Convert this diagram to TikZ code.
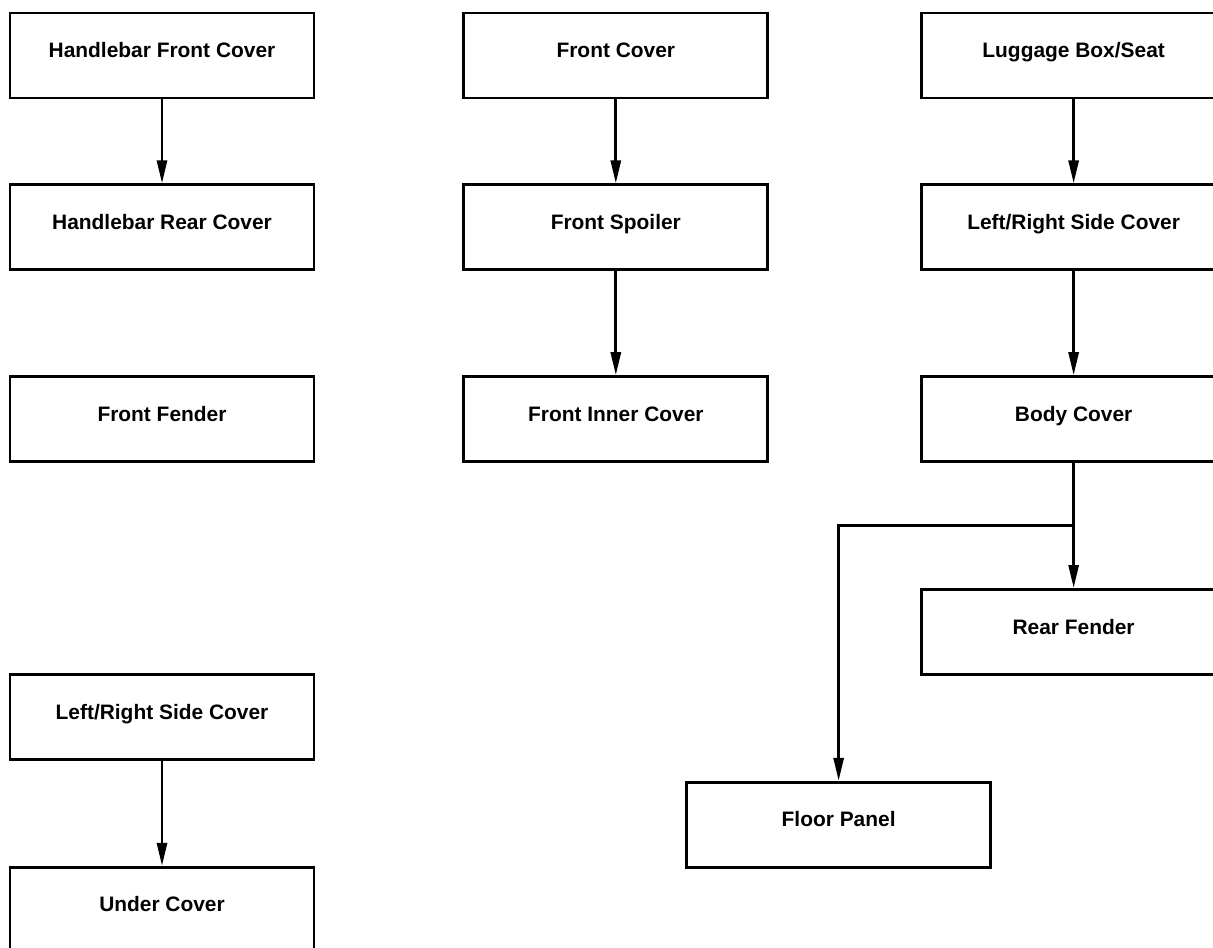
\documentclass[tikz,border=0pt]{standalone}
\usepackage{fontspec}
\setmainfont{Liberation Sans}
\usepackage{tikz}
\usetikzlibrary{arrows.meta, positioning, calc}

\begin{document}
\begin{tikzpicture}[
    node distance=1.68cm,
    box/.style={draw, line width=1.6pt, minimum width=6.08cm, minimum height=1.7cm, align=center,
        font=\fontsize{11.9}{14}\selectfont\bfseries, text height=9pt, text depth=6.6pt},
    arrow/.style={-{Triangle[length=4.6mm, width=2mm]}, line width=1.6pt}
]
\useasboundingbox (0,0) rectangle (24.26,-18.94);

% Column 1: handlebar
\node[box] (hfront) at (3.24,-1.11) {Handlebar Front Cover};
\node[box, below=of hfront] (hrear) {Handlebar Rear Cover};
\node[box, below=2.08cm of hrear] (ffender) {Front Fender};
\node[box, below=4.2cm of ffender] (lrside) {Left/Right Side Cover};
\node[box, below=2.1cm of lrside] (under) {Under Cover};

% Column 2: front
\node[box, right=2.94cm of hfront] (fcover) {Front Cover};
\node[box, below=of fcover] (fspoiler) {Front Spoiler};
\node[box, below=2.08cm of fspoiler] (finner) {Front Inner Cover};

% Column 3: rear (cut by the right margin)
\node[box, right=3.02cm of fcover] (luggage) {Luggage Box/Seat};
\node[box, below=of luggage] (side) {Left/Right Side Cover};
\node[box, below=2.08cm of side] (body) {Body Cover};
\node[box, below=2.5cm of body] (rfender) {Rear Fender};
\node[box, below=2.1cm of rfender, xshift=-4.7cm] (floor) {Floor Panel};

\coordinate (split) at ($(body.south)!0.5!(rfender.north)$);

% Arrows
\draw[arrow] (hfront) -- (hrear);
\draw[arrow] (lrside) -- (under);
\draw[arrow] (fcover) -- (fspoiler);
\draw[arrow] (fspoiler) -- (finner);
\draw[arrow] (luggage) -- (side);
\draw[arrow] (side) -- (body);
\draw[arrow] (body) -- (rfender);
\draw[arrow] (split) -| (floor.north);

\end{tikzpicture}
\end{document}
